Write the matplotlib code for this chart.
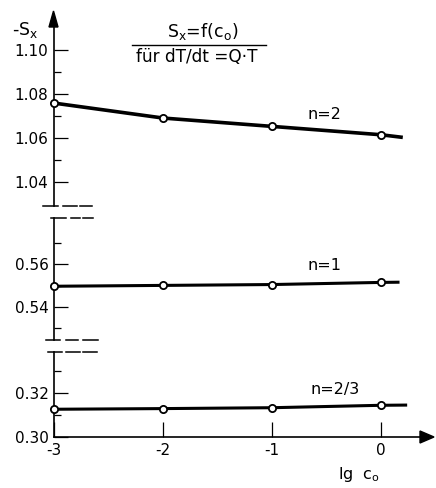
import matplotlib
matplotlib.use('Agg')
import matplotlib.pyplot as plt
from matplotlib.lines import Line2D
from matplotlib.patches import Polygon

plt.rcParams['font.family'] = ['DejaVu Sans']
plt.rcParams['mathtext.default'] = 'regular'

# ---------------- data ----------------
lg_c0 = [-3, -2, -1, 0]
s_n2 = [1.0759, 1.0691, 1.0653, 1.0615]
s_n1 = [0.5497, 0.5501, 0.5505, 0.5515]
s_n23 = [0.3126, 0.3129, 0.3133, 0.3144]
line_end_x = [0.20, 0.17, 0.24]
line_end_y = [1.0603, 0.5516, 0.3145]
series_labels = ['n=2', 'n=1', 'n=2/3']
xticks = [-3, -2, -1, 0]
xticklabels = ['-3', '-2', '-1', '0']
top_major = [1.04, 1.06, 1.08, 1.10]
top_major_labels = ['1.04', '1.06', '1.08', '1.10']
top_minor = [1.05, 1.07, 1.09]
mid_major = [0.54, 0.56]
mid_major_labels = ['0.54', '0.56']
mid_minor = [0.53, 0.55, 0.57]
bot_major = [0.30, 0.32]
bot_major_labels = ['0.30', '0.32']
bot_minor = [0.31, 0.33]

# ---------------- layout helpers ----------------
W, H = 436, 488
fig = plt.figure(figsize=(W / 100, H / 100), dpi=100)
fig.patch.set_facecolor('white')


def fx(px):
    return px / W


def fy(py):
    return 1 - py / H


X0, X1 = 54, 433
PX_PER_UNIT = 109
XLIM = (-3, -3 + (X1 - X0) / PX_PER_UNIT)
FS = 11


def make_ax(top_px, bot_px, ylim, major, major_labels, minor):
    ax = fig.add_axes([fx(X0), fy(bot_px), (X1 - X0) / W, (bot_px - top_px) / H])
    ax.set_xlim(*XLIM)
    ax.set_ylim(*ylim)
    for s in ['top', 'right', 'bottom']:
        ax.spines[s].set_visible(False)
    ax.spines['left'].set_linewidth(1.2)
    ax.patch.set_visible(False)
    ax.set_yticks(major)
    ax.set_yticklabels(major_labels)
    ax.set_yticks(minor, minor=True)
    ax.tick_params(axis='y', which='major', direction='in', length=10, width=0.9,
                   labelsize=FS, pad=4)
    ax.tick_params(axis='y', which='minor', direction='in', length=5, width=0.9)
    ax.set_xticks([])
    return ax


ax_top = make_ax(27, 206, (1.0291, 1.1105), top_major, top_major_labels, top_minor)
ax_mid = make_ax(218, 340, (0.5245, 0.5817), mid_major, mid_major_labels, mid_minor)
ax_bot = make_ax(352, 437, (0.30, 0.3386), bot_major, bot_major_labels, bot_minor)

# x axis on bottom panel
ax_bot.spines['bottom'].set_visible(True)
ax_bot.spines['bottom'].set_linewidth(1.2)
ax_bot.spines['bottom'].set_bounds(-3, -3 + (421 - X0) / PX_PER_UNIT)
ax_bot.set_xticks(xticks)
ax_bot.set_xticklabels(xticklabels)
ax_bot.tick_params(axis='x', direction='in', length=10.5, width=0.9, labelsize=FS, pad=4)

# ---------------- data lines ----------------
axes = [ax_top, ax_mid, ax_bot]
series = [s_n2, s_n1, s_n23]
label_pos = [(-0.67, 1.0709), (-0.67, 0.5595), (-0.65, 0.3214)]
lws = [2.6, 2.2, 2.2]
for ax, ys, ex, ey, lab, lp, lw in zip(axes, series, line_end_x, line_end_y,
                                       series_labels, label_pos, lws):
    ax.plot(list(lg_c0) + [ex], list(ys) + [ey], color='black', lw=lw,
            solid_capstyle='butt', clip_on=False, zorder=3)
    ax.plot(lg_c0, ys, linestyle='none', marker='o', ms=5.2, mfc='white',
            mec='black', mew=1.3, clip_on=False, zorder=4)
    ax.text(lp[0], lp[1], lab, fontsize=11.5, ha='left', va='center')

# ---------------- arrowheads ----------------
fig.add_artist(Polygon([(fx(49), fy(27)), (fx(58), fy(27)), (fx(53.5), fy(11))],
                       closed=True, transform=fig.transFigure, color='black'))
fig.add_artist(Polygon([(fx(420), fy(431)), (fx(420), fy(443)), (fx(434), fy(437))],
                       closed=True, transform=fig.transFigure, color='black'))


# ---------------- axis-break marks ----------------
def seg(x0, x1, y, lw=1.1):
    fig.add_artist(Line2D([fx(x0), fx(x1)], [fy(y), fy(y)],
                          transform=fig.transFigure, color='black', lw=lw))


for y, segs in [(206, [(43, 58), (63, 77), (80, 92)]),
                (218, [(51, 66), (71, 80), (83, 93)]),
                (340, [(46, 60), (66, 78), (83, 98)]),
                (352, [(48, 62), (66, 80), (83, 97)])]:
    for a, b in segs:
        seg(a, b, y)

# ---------------- texts ----------------
fig.text(fx(12), fy(30), '-S$_x$', fontsize=12.5, ha='left', va='center')
fig.text(fx(338), fy(475), 'lg  c$_o$', fontsize=11.5, ha='left', va='center')
fig.text(fx(203), fy(32), 'S$_x$=f(c$_o$)', fontsize=12.5, ha='center', va='center')
fig.add_artist(Line2D([fx(132), fx(266)], [fy(45), fy(45)],
                      transform=fig.transFigure, color='black', lw=1.0))
fig.text(fx(197), fy(57), 'für dT/dt =Q·T', fontsize=12.2, ha='center', va='center')

fig.savefig('out.png', dpi=100, facecolor='white')
